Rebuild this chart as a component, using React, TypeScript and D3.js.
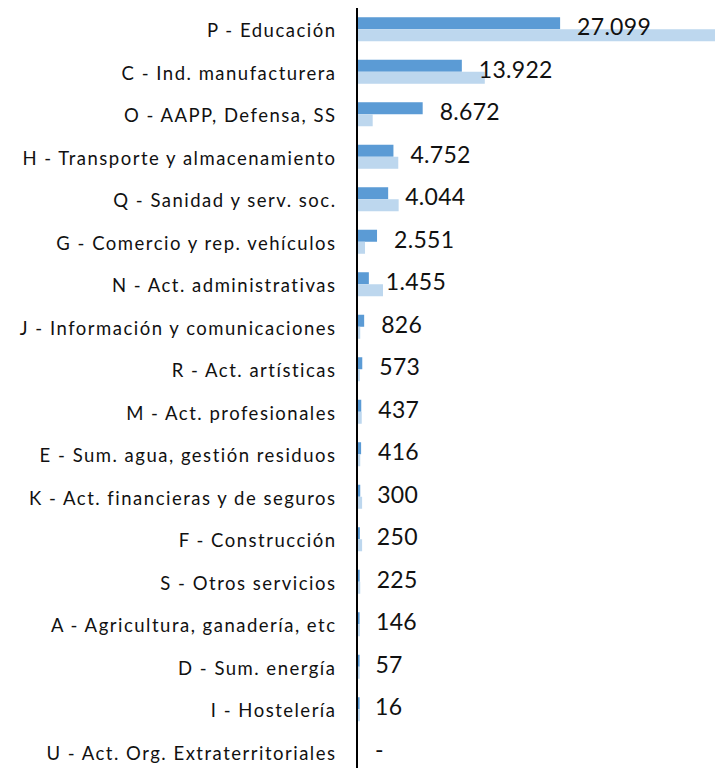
import React, { useEffect, useRef } from 'react';
import * as d3 from 'd3';

const categories = [
  'P - Educación',
  'C - Ind. manufacturera',
  'O - AAPP, Defensa, SS',
  'H - Transporte y almacenamiento',
  'Q - Sanidad y serv. soc.',
  'G - Comercio y rep. vehículos',
  'N - Act. administrativas',
  'J - Información y comunicaciones',
  'R - Act. artísticas',
  'M - Act. profesionales',
  'E - Sum. agua, gestión residuos',
  'K - Act. financieras y de seguros',
  'F - Construcción',
  'S - Otros servicios',
  'A - Agricultura, ganadería, etc',
  'D - Sum. energía',
  'I - Hostelería',
  'U - Act. Org. Extraterritoriales',
];

// dark series (labelled)
const mainValues = [27099, 13922, 8672, 4752, 4044, 2551, 1455, 826, 573, 437, 416, 300, 250, 225, 146, 57, 16, 0];
// light series (unlabelled)
const compareValues = [48000, 17000, 1970, 5400, 5450, 940, 3350, 300, 250, 500, 300, 550, 550, 300, 250, 200, 250, 0];

const seriesKeys = ['main', 'compare'];

const App = () => {
  const chartRef = useRef<SVGSVGElement>(null);

  useEffect(() => {
    const width = 715;
    const height = 768;
    const svg = d3.select(chartRef.current);
    svg.selectAll('*').remove();
    svg.attr('width', width).attr('height', height);

    const rows = categories.map((c, i) => ({ cat: c, main: mainValues[i], compare: compareValues[i] }));

    const x = d3.scaleLinear().domain([0, 48000]).range([358, 716]);

    const y = d3.scaleBand()
      .domain(categories)
      .range([8, 773])
      .paddingInner(0.435)
      .paddingOuter(0.2175);

    const y1 = d3.scaleBand()
      .domain(seriesKeys)
      .range([0, y.bandwidth()]);

    const colors = { main: '#5B9BD5', compare: '#BDD7EE' };

    const es = d3.formatLocale({ decimal: ',', thousands: '.', grouping: [3], currency: ['', '€'] });
    const fmt = es.format(',d');

    const g = svg.append('g');

    seriesKeys.forEach(key => {
      g.selectAll(`rect.${key}`)
        .data(rows)
        .enter()
        .append('rect')
        .attr('class', key)
        .attr('x', x(0))
        .attr('y', d => (y(d.cat) as number) + (y1(key) as number))
        .attr('height', y1.bandwidth())
        .attr('width', d => {
          const v = d[key];
          const w = x(v) - x(0);
          return v > 0 ? Math.max(w, 1.6) : 0;
        })
        .attr('fill', colors[key]);
    });

    // vertical axis line
    svg.append('line')
      .attr('x1', 357).attr('x2', 357)
      .attr('y1', 8).attr('y2', 773)
      .attr('stroke', '#000')
      .attr('stroke-width', 2);

    // category labels (wide tracking like the original)
    svg.append('g')
      .selectAll('text')
      .data(rows)
      .enter()
      .append('text')
      .attr('x', 336.5)
      .attr('y', d => (y(d.cat) as number) + y.bandwidth() / 2 + 1)
      .attr('text-anchor', 'end')
      .attr('dominant-baseline', 'central')
      .style('font-family', 'Lato, "Open Sans", sans-serif')
      .style('font-size', '18.5px')
      .style('letter-spacing', '1.5px')
      .attr('fill', '#111')
      .text(d => d.cat);

    // value labels
    svg.append('g')
      .selectAll('text')
      .data(rows)
      .enter()
      .append('text')
      .attr('x', d => x(d.main) + 17)
      .attr('y', d => (y(d.cat) as number) + y.bandwidth() / 2 - 3)
      .attr('dominant-baseline', 'central')
      .style('font-family', 'Lato, "Open Sans", sans-serif')
      .style('font-size', '23px')
      .style('letter-spacing', '0.3px')
      .attr('fill', '#111')
      .text(d => (d.main === 0 ? '-' : fmt(d.main)));
  }, []);

  return (
    <svg
      ref={chartRef}
      style={{ position: 'absolute', left: 0, top: 0, background: '#fff' }}
    ></svg>
  );
};

export default App;
